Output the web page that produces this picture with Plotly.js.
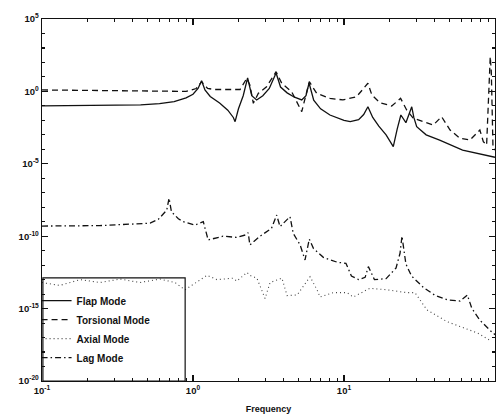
<!DOCTYPE html>
<html>
<head>
<meta charset="utf-8">
<script src="https://cdn.plot.ly/plotly-3.0.1.min.js"></script>
<style>html,body{margin:0;padding:0;background:#fff;}#chart{width:501px;height:417px;}</style>
</head>
<body>
<div id="chart"></div>
<script>
// Frequencies and log10 of magnitudes
var flapFreq = [0.1,0.2,0.3,0.45,0.6,0.75,0.9,1.0,1.08,1.14,1.2,1.3,1.5,1.7,1.85,1.9,2.0,2.15,2.3,2.45,2.64,2.9,3.2,3.55,3.8,4.2,4.7,5.25,5.6,5.87,6.3,7,8.07,10,11,12.5,13.5,14.4,15.5,17,19,21.2,22.5,23.8,25.7,28.1,29,30.3,35,43,61,80,100];
var flapLog  = [-1.0,-0.99,-0.97,-0.93,-0.85,-0.7,-0.45,-0.2,0.2,0.74,0.1,-0.35,-0.8,-1.3,-1.8,-2.09,-1.2,-0.3,0.93,-0.3,-0.59,-0.3,0.2,1.27,0.3,-0.1,-0.4,-0.59,-0.3,0.58,-0.6,-1.2,-1.63,-2.0,-2.09,-1.95,-1.6,-1.06,-1.8,-2.4,-3.0,-3.82,-2.6,-1.63,-2.16,-1.06,-1.8,-2.44,-3.0,-3.36,-4.05,-4.35,-4.55];

var torsFreq = [0.1,0.3,0.6,0.9,1.05,1.14,1.25,1.4,2.05,2.27,2.38,2.51,2.71,3.07,3.55,3.87,4.5,5.25,5.89,6.59,8.07,9.84,12.1,13.8,14.4,15.3,17.3,20.7,23.7,26,28.8,33.5,39,44.3,50.4,58.6,68.3,79.4,83.7,88,91.5,93,94.5,97,100];
var torsLog  = [0.1,0.07,0.03,0.0,0.2,0.67,0.2,0.13,0.13,0.9,0.44,-0.82,-0.13,0.32,1.36,0.56,-0.02,-1.4,0.67,-0.13,-0.48,-0.59,-0.37,0.32,0.56,-0.25,-0.78,-1.01,-0.48,-1.28,-1.86,-2.09,-2.32,-1.75,-2.67,-3.24,-3.36,-2.67,-3.47,-3.7,1.2,2.4,1.4,-3.9,-4.05];

var axialFreq = [0.1,0.131,0.179,0.242,0.329,0.446,0.604,0.76,0.885,1.11,1.24,1.44,1.84,1.95,2.28,2.38,2.65,3.0,3.24,3.88,4.2,4.89,5.96,6.63,6.94,8.46,10.5,11.5,14.8,19.3,26.1,29.5,35.5,48.1,77.1,92.7];
var axialLog  = [-13.2,-13.4,-13.0,-13.2,-12.96,-13.2,-12.96,-13.2,-13.7,-13.0,-12.7,-13.0,-12.9,-13.1,-12.5,-12.7,-12.9,-14.3,-13.2,-12.9,-14.1,-14.06,-12.8,-13.7,-14.2,-13.9,-13.9,-14.2,-13.6,-13.7,-13.9,-13.9,-15.1,-15.9,-16.7,-17.2];

var lagFreq = [0.1,0.24,0.52,0.59,0.67,0.694,0.72,0.8,0.863,1.03,1.17,1.26,1.58,1.94,2.25,2.32,2.38,2.78,3.31,3.58,3.77,4.39,4.61,5.12,5.52,5.89,6.27,7.3,9.04,10.3,11.2,12.5,13.8,14.5,15.9,19,22.1,23.5,24.2,24.8,25.7,28,33.5,40,48.6,58.6,65.6,70.2,79.4,92.7,100];
var lagLog  = [-9.3,-9.27,-9.1,-8.83,-8.2,-7.38,-8.31,-8.8,-9.0,-9.23,-9.0,-10.26,-10.0,-10.08,-9.9,-9.76,-10.6,-10.0,-9.46,-8.54,-9.34,-8.65,-9.8,-10.6,-11.64,-10.2,-10.84,-11.46,-11.8,-11.87,-12.75,-13.0,-12.84,-12.1,-13.0,-12.93,-12.2,-11.18,-10.0,-10.96,-11.92,-12.75,-13.53,-14.08,-14.4,-14.48,-14.06,-14.98,-15.8,-16.5,-16.8];

var seriesNames = ["Flap Mode","Torsional Mode","Axial Mode","Lag Mode"];

var yTickVals = [1e5,1,1e-5,1e-10,1e-15,1e-20];
var yTickText = ["10<sup>5</sup>","10<sup>0</sup>","10<sup>-5</sup>","10<sup>-10</sup>","10<sup>-15</sup>","10<sup>-20</sup>"];
var xTickVals = [0.1,1,10,100];
var xTickText = ["10<sup>-1</sup>","10<sup>0</sup>","10<sup>1</sup>","10<sup>2</sup>"];

// minor tick positions: every decade on y, 2..9 within each decade on x
var yMinorVals = [];
for (var e = -20; e <= 5; e++) yMinorVals.push(Math.pow(10, e));
var xMinorVals = [];
for (var d = -1; d < 2; d++) for (var k = 2; k <= 9; k++) xMinorVals.push(k * Math.pow(10, d));

function pw(a){return a.map(function(v){return Math.pow(10,v);});}

var ink = "#111111";
var traces = [
  {x: flapFreq, y: pw(flapLog), name: seriesNames[0], mode:"lines", line:{color:ink,width:1.3,dash:"solid"}},
  {x: torsFreq, y: pw(torsLog), name: seriesNames[1], mode:"lines", line:{color:ink,width:1.3,dash:"6px,4px"}},
  {x: axialFreq, y: pw(axialLog), name: seriesNames[2], mode:"lines", line:{color:"#444",width:1.1,dash:"1px,3px"}},
  {x: lagFreq, y: pw(lagLog), name: seriesNames[3], mode:"lines", line:{color:ink,width:1.3,dash:"6px,3px,1.5px,3px"}}
];

var fam = "Liberation Sans, Arial, sans-serif";
var fnt = {family:fam, size:9.5, color:"#111", weight:"bold"};

var layout = {
  width:501, height:417,
  margin:{l:42,r:6,t:19,b:36},
  paper_bgcolor:"#fff", plot_bgcolor:"#fff",
  showlegend:true,
  legend:{x:-0.012,y:0.262,xanchor:"left",yanchor:"top",bgcolor:"rgba(0,0,0,0)",borderwidth:0,
          font:{family:"Liberation Sans Narrow, Liberation Sans, Arial, sans-serif",size:10,color:"#111",weight:"bold"},
          tracegroupgap:0},
  xaxis:{type:"log", range:[-1,2], tickmode:"array", tickvals:xTickVals, ticktext:xTickText,
         ticks:"inside", ticklen:6, tickwidth:1.3,
         tickcolor:ink, showline:true, linecolor:ink, linewidth:1.3, mirror:"allticks", showgrid:false, zeroline:false,
         tickfont:fnt,
         minor:{tickmode:"array", tickvals:xMinorVals, ticks:"inside", ticklen:3, tickwidth:1.1, tickcolor:ink, showgrid:false},
         title:{text:"Frequency", font:{family:fam,size:9,color:"#111",weight:"bold"}, standoff:11}},
  yaxis:{type:"log", range:[-20,5], tickmode:"array", tickvals:yTickVals, ticktext:yTickText,
         ticks:"inside", ticklen:6, tickwidth:1.3,
         tickcolor:ink, showline:true, linecolor:ink, linewidth:1.3, mirror:"allticks", showgrid:false, zeroline:false,
         tickfont:fnt,
         minor:{tickmode:"array", tickvals:yMinorVals, ticks:"inside", ticklen:3, tickwidth:1.1, tickcolor:ink, showgrid:false}},
  shapes:[{type:"rect", xref:"paper", yref:"paper", x0:0.002, x1:0.316, y0:0, y1:0.285, line:{color:ink,width:1.2}}]
};

Plotly.newPlot("chart", traces, layout, {staticPlot:true, displayModeBar:false});
</script>
</body>
</html>
